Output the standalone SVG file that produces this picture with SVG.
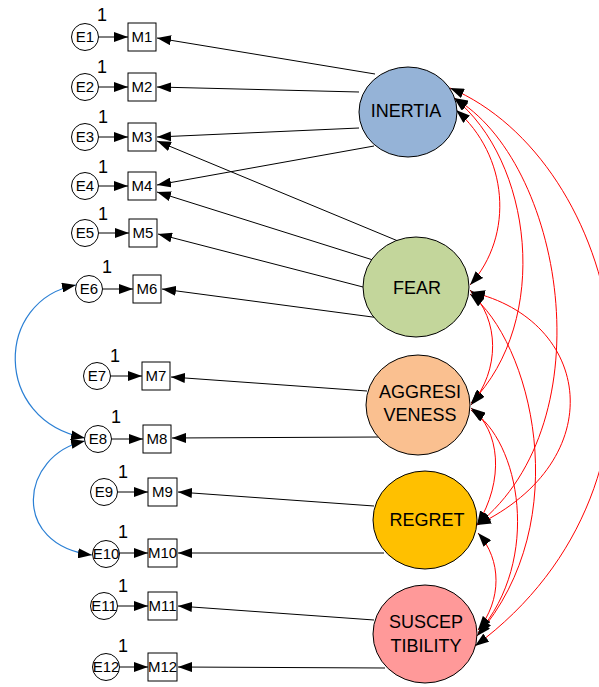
<svg xmlns="http://www.w3.org/2000/svg" width="599" height="687" viewBox="0 0 599 687">
<style>
text{font-family:"Liberation Sans",Arial,sans-serif;fill:#000;text-anchor:middle}
.lab{font-size:15px}
.one{font-size:18px}
.fac{font-size:18px}
.e{fill:#fff;stroke:#000;stroke-width:1}
.m{fill:#fff;stroke:#000;stroke-width:1}
.f{stroke:#000;stroke-width:1}
.ln{stroke:#000;stroke-width:1;fill:none;marker-end:url(#ah)}
.red{stroke:#ff0000;stroke-width:1;fill:none;marker-start:url(#ah);marker-end:url(#ah)}
.blue{stroke:#2a7fd4;stroke-width:1.2;fill:none;marker-start:url(#ah);marker-end:url(#ah)}
</style>
<defs>
<marker id="ah" viewBox="0 0 14 10" refX="14" refY="5" markerWidth="14" markerHeight="10" markerUnits="userSpaceOnUse" orient="auto-start-reverse">
<path d="M0,0 L14,5 L0,10 z" fill="#000"/>
</marker>
</defs>
<rect width="599" height="687" fill="#fff"/>
<g id="connectors">
<line class="ln" x1="98.5" y1="37" x2="128" y2="37"/>
<line class="ln" x1="98.5" y1="87" x2="128" y2="87"/>
<line class="ln" x1="98.5" y1="137" x2="128" y2="137"/>
<line class="ln" x1="98.5" y1="186" x2="128" y2="186"/>
<line class="ln" x1="98.5" y1="233" x2="129" y2="233"/>
<line class="ln" x1="102.5" y1="289" x2="133" y2="289"/>
<line class="ln" x1="110.5" y1="376" x2="142" y2="376"/>
<line class="ln" x1="111.5" y1="439" x2="143" y2="439"/>
<line class="ln" x1="117.5" y1="492" x2="148" y2="492"/>
<line class="ln" x1="119.5" y1="553" x2="148" y2="553"/>
<line class="ln" x1="117.5" y1="606" x2="148" y2="606"/>
<line class="ln" x1="119.5" y1="667" x2="148" y2="667"/>
<line class="ln" x1="375" y1="74" x2="157" y2="38"/>
<line class="ln" x1="359" y1="92" x2="157" y2="87"/>
<line class="ln" x1="359" y1="128" x2="157" y2="137"/>
<line class="ln" x1="374" y1="146" x2="157" y2="185"/>
<line class="ln" x1="398" y1="241" x2="157" y2="141"/>
<line class="ln" x1="373" y1="260" x2="157" y2="192"/>
<line class="ln" x1="363" y1="287" x2="158" y2="234"/>
<line class="ln" x1="380" y1="318" x2="162" y2="289"/>
<line class="ln" x1="367" y1="391" x2="171" y2="377"/>
<line class="ln" x1="380" y1="437" x2="172" y2="438"/>
<line class="ln" x1="374" y1="506" x2="178" y2="492"/>
<line class="ln" x1="384" y1="553" x2="178" y2="553"/>
<line class="ln" x1="374" y1="620" x2="178" y2="606"/>
<line class="ln" x1="385" y1="668" x2="178" y2="667"/>
<path class="blue" d="M76,285 C -5,300 -8,420 85,438"/>
<path class="blue" d="M85,441 C 20,455 10,545 92,555"/>
<path class="red" d="M456,110 C 508,155 515,235 470,285"/>
<path class="red" d="M454,98 C 532,160 552,320 471,403"/>
<path class="red" d="M454,98 C 562,160 608,420 477,525"/>
<path class="red" d="M450,88 C 620,160 700,480 475,646"/>
<path class="red" d="M470,290 C 500,320 500,370 471,405"/>
<path class="red" d="M471,292 C 592,320 612,460 477,525"/>
<path class="red" d="M470,294 C 530,340 578,520 477,636"/>
<path class="red" d="M471,408 C 500,430 505,480 477,525"/>
<path class="red" d="M471,410 C 520,440 542,560 478,633"/>
<path class="red" d="M478,533 C 502,560 502,600 478,630"/>
</g>
<g id="INERTIA"><ellipse class="f" cx="408" cy="112" rx="49" ry="45" fill="#95b3d7"/><text class="fac" x="406" y="117">INERTIA</text></g>
<g id="FEAR"><ellipse class="f" cx="416" cy="287" rx="53" ry="50" fill="#c3d69b"/><text class="fac" x="417" y="294">FEAR</text></g>
<g id="AGGRESIVENESS"><ellipse class="f" cx="418" cy="405" rx="52" ry="50" fill="#fac090"/><text class="fac" x="420" y="398">AGGRESI</text><text class="fac" x="420" y="421">VENESS</text></g>
<g id="REGRET"><ellipse class="f" cx="425" cy="520" rx="52" ry="49" fill="#ffc000"/><text class="fac" x="427" y="526">REGRET</text></g>
<g id="SUSCEPTIBILITY"><ellipse class="f" cx="425" cy="634" rx="52" ry="49" fill="#ff9999"/><text class="fac" x="426" y="628">SUSCEP</text><text class="fac" x="426" y="652">TIBILITY</text></g>
<g id="M1"><rect class="m" x="128" y="23" width="28" height="28"/><text class="lab" x="142" y="42">M1</text></g>
<g id="M2"><rect class="m" x="128" y="73" width="28" height="28"/><text class="lab" x="142" y="92">M2</text></g>
<g id="M3"><rect class="m" x="128" y="123" width="28" height="28"/><text class="lab" x="142" y="142">M3</text></g>
<g id="M4"><rect class="m" x="128" y="172" width="28" height="28"/><text class="lab" x="142" y="191">M4</text></g>
<g id="M5"><rect class="m" x="129" y="219" width="28" height="28"/><text class="lab" x="143" y="238">M5</text></g>
<g id="M6"><rect class="m" x="133" y="275" width="28" height="28"/><text class="lab" x="147" y="294">M6</text></g>
<g id="M7"><rect class="m" x="142" y="362" width="28" height="28"/><text class="lab" x="156" y="381">M7</text></g>
<g id="M8"><rect class="m" x="143" y="425" width="28" height="28"/><text class="lab" x="157" y="444">M8</text></g>
<g id="M9"><rect class="m" x="148" y="478" width="29" height="28"/><text class="lab" x="162.5" y="497">M9</text></g>
<g id="M10"><rect class="m" x="148" y="539" width="29" height="28"/><text class="lab" x="162.5" y="558">M10</text></g>
<g id="M11"><rect class="m" x="148" y="592" width="29" height="28"/><text class="lab" x="162.5" y="611">M11</text></g>
<g id="M12"><rect class="m" x="148" y="653" width="29" height="28"/><text class="lab" x="162.5" y="672">M12</text></g>
<g id="E1"><circle class="e" cx="85" cy="37" r="13.5"/><text class="lab" x="85" y="42">E1</text><text class="one" x="102" y="21">1</text></g>
<g id="E2"><circle class="e" cx="85" cy="87" r="13.5"/><text class="lab" x="85" y="92">E2</text><text class="one" x="102" y="73">1</text></g>
<g id="E3"><circle class="e" cx="85" cy="137" r="13.5"/><text class="lab" x="85" y="142">E3</text><text class="one" x="103" y="123">1</text></g>
<g id="E4"><circle class="e" cx="85" cy="186" r="13.5"/><text class="lab" x="85" y="191">E4</text><text class="one" x="103" y="173">1</text></g>
<g id="E5"><circle class="e" cx="85" cy="233" r="13.5"/><text class="lab" x="85" y="238">E5</text><text class="one" x="103" y="220">1</text></g>
<g id="E6"><circle class="e" cx="89" cy="289" r="13.5"/><text class="lab" x="89" y="294">E6</text><text class="one" x="107" y="273">1</text></g>
<g id="E7"><circle class="e" cx="97" cy="376" r="13.5"/><text class="lab" x="97" y="381">E7</text><text class="one" x="115" y="362">1</text></g>
<g id="E8"><circle class="e" cx="98" cy="439" r="13.5"/><text class="lab" x="98" y="444">E8</text><text class="one" x="116" y="423">1</text></g>
<g id="E9"><circle class="e" cx="104" cy="492" r="13.5"/><text class="lab" x="104" y="497">E9</text><text class="one" x="123" y="478">1</text></g>
<g id="E10"><circle class="e" cx="106" cy="554" r="13.5"/><text class="lab" x="106" y="559">E10</text><text class="one" x="123" y="538">1</text></g>
<g id="E11"><circle class="e" cx="104" cy="606" r="13.5"/><text class="lab" x="104" y="611">E11</text><text class="one" x="123" y="592">1</text></g>
<g id="E12"><circle class="e" cx="106" cy="667" r="13.5"/><text class="lab" x="106" y="672">E12</text><text class="one" x="123" y="652">1</text></g>
</svg>
